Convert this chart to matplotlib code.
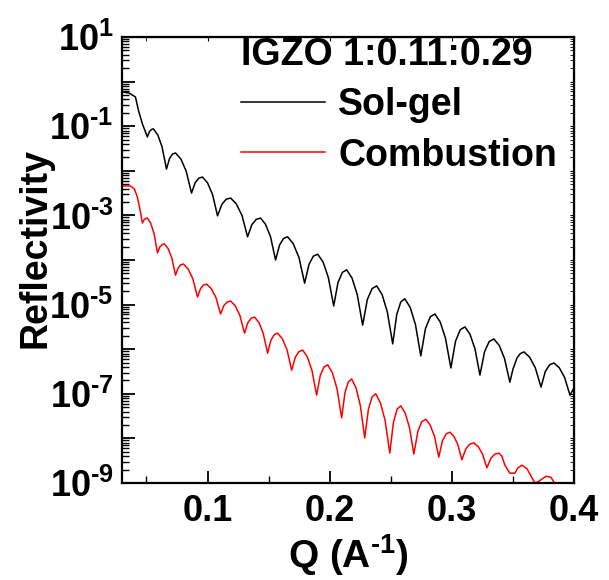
import matplotlib
matplotlib.use("Agg")
import matplotlib.pyplot as plt
import numpy as np
from matplotlib.ticker import FixedLocator, FuncFormatter, LogLocator, NullFormatter, MultipleLocator

# values: Q (1/A) and log10(reflectivity)
solgel_q = [
    0.0300, 0.0357, 0.0410, 0.0434, 0.0467, 0.0508, 0.0524, 0.0541, 0.0557, 0.0593,
    0.0628, 0.0664, 0.0689, 0.0713, 0.0738, 0.0782, 0.0825, 0.0869, 0.0899, 0.0929,
    0.0959, 0.1000, 0.1041, 0.1082, 0.1118, 0.1153, 0.1189, 0.1235, 0.1282, 0.1328,
    0.1363, 0.1399, 0.1434, 0.1475, 0.1516, 0.1557, 0.1590, 0.1623, 0.1656, 0.1702,
    0.1749, 0.1795, 0.1831, 0.1866, 0.1902, 0.1946, 0.1989, 0.2033, 0.2068, 0.2104,
    0.2139, 0.2183, 0.2226, 0.2270, 0.2308, 0.2347, 0.2385, 0.2429, 0.2472, 0.2516,
    0.2549, 0.2582, 0.2615, 0.2659, 0.2702, 0.2746, 0.2784, 0.2823, 0.2861, 0.2905,
    0.2948, 0.2992, 0.3030, 0.3069, 0.3107, 0.3148, 0.3189, 0.3230, 0.3268, 0.3306,
    0.3344, 0.3388, 0.3431, 0.3475, 0.3500, 0.3533, 0.3560, 0.3590, 0.3637, 0.3683,
    0.3730, 0.3765, 0.3801, 0.3836, 0.3880, 0.3923, 0.3967, 0.4000,
]
solgel_logr = [
    -0.233, -0.255, -0.345, -0.637, -0.950, -1.240, -1.123, -1.073, -1.060, -1.195,
    -1.465, -1.960, -1.726, -1.625, -1.600, -1.735, -2.005, -2.500, -2.266, -2.165,
    -2.140, -2.270, -2.530, -3.010, -2.750, -2.638, -2.610, -2.740, -3.000, -3.480,
    -3.207, -3.089, -3.060, -3.200, -3.480, -4.000, -3.662, -3.516, -3.480, -3.636,
    -3.948, -4.520, -4.097, -3.915, -3.870, -4.044, -4.392, -5.030, -4.504, -4.277,
    -4.220, -4.406, -4.778, -5.460, -4.888, -4.642, -4.580, -4.775, -5.165, -5.880,
    -5.224, -4.941, -4.870, -5.062, -5.446, -6.150, -5.539, -5.276, -5.210, -5.392,
    -5.755, -6.420, -5.822, -5.564, -5.500, -5.662, -5.986, -6.580, -6.054, -5.827,
    -5.770, -5.916, -6.207, -6.740, -6.450, -6.200, -6.100, -6.060, -6.179, -6.415,
    -6.850, -6.499, -6.348, -6.310, -6.418, -6.634, -7.030, -6.870,
]

combustion_q = [
    0.0300, 0.0369, 0.0402, 0.0426, 0.0451, 0.0467, 0.0481, 0.0494, 0.0508, 0.0535,
    0.0563, 0.0590, 0.0609, 0.0629, 0.0648, 0.0678, 0.0708, 0.0738, 0.0760, 0.0781,
    0.0803, 0.0841, 0.0880, 0.0918, 0.0943, 0.0967, 0.0992, 0.1030, 0.1069, 0.1107,
    0.1134, 0.1162, 0.1189, 0.1227, 0.1265, 0.1303, 0.1330, 0.1358, 0.1385, 0.1421,
    0.1456, 0.1492, 0.1519, 0.1547, 0.1574, 0.1612, 0.1651, 0.1689, 0.1719, 0.1749,
    0.1779, 0.1817, 0.1855, 0.1893, 0.1923, 0.1954, 0.1984, 0.2022, 0.2060, 0.2098,
    0.2125, 0.2153, 0.2180, 0.2216, 0.2251, 0.2287, 0.2317, 0.2347, 0.2377, 0.2415,
    0.2454, 0.2492, 0.2522, 0.2552, 0.2582, 0.2618, 0.2653, 0.2689, 0.2722, 0.2754,
    0.2787, 0.2822, 0.2858, 0.2893, 0.2923, 0.2954, 0.2984, 0.3017, 0.3049, 0.3082,
    0.3115, 0.3147, 0.3180, 0.3216, 0.3251, 0.3287, 0.3320, 0.3352, 0.3385, 0.3410,
    0.3434, 0.3475, 0.3516, 0.3541, 0.3574, 0.3615, 0.3680, 0.3713, 0.3770, 0.3811,
    0.3836, 0.3860,
]
combustion_logr = [
    -2.340, -2.340, -2.410, -2.590, -2.920, -3.170, -3.098, -3.068, -3.060, -3.177,
    -3.411, -3.840, -3.710, -3.654, -3.640, -3.745, -3.955, -4.340, -4.178, -4.108,
    -4.090, -4.201, -4.423, -4.830, -4.642, -4.560, -4.540, -4.640, -4.842, -5.210,
    -5.021, -4.940, -4.920, -5.028, -5.244, -5.640, -5.406, -5.305, -5.280, -5.400,
    -5.645, -6.090, -5.798, -5.672, -5.640, -5.765, -6.014, -6.470, -6.178, -6.052,
    -6.020, -6.172, -6.475, -7.030, -6.588, -6.398, -6.350, -6.529, -6.886, -7.540,
    -6.975, -6.731, -6.670, -6.868, -7.264, -7.990, -7.346, -7.069, -7.000, -7.200,
    -7.599, -8.330, -7.641, -7.344, -7.270, -7.432, -7.756, -8.350, -7.843, -7.625,
    -7.570, -7.698, -7.953, -8.420, -8.056, -7.899, -7.860, -7.953, -8.139, -8.480,
    -8.233, -8.127, -8.100, -8.184, -8.352, -8.660, -8.445, -8.353, -8.330, -8.400,
    -8.600, -8.780, -8.780, -8.660, -8.600, -8.680, -9.000, -8.960, -8.850, -8.870,
    -8.980, -9.300,
]

series_labels = ["Sol-gel", "Combustion"]
legend_title = "IGZO 1:0.11:0.29"
x_ticks = [0.1, 0.2, 0.3, 0.4]
y_label_exps = [1, -1, -3, -5, -7, -9]

plt.rcParams["font.family"] = ["Liberation Sans", "DejaVu Sans"]
plt.rcParams["font.weight"] = "bold"
plt.rcParams["mathtext.fontset"] = "custom"
plt.rcParams["mathtext.rm"] = "Liberation Sans:bold"
plt.rcParams["mathtext.bf"] = "Liberation Sans:bold"
plt.rcParams["mathtext.it"] = "Liberation Sans:bold"

fig = plt.figure(figsize=(6.09, 5.80), dpi=100)
ax = fig.add_axes([122 / 609, 1 - 483 / 580, 452 / 609, 446 / 580])

ax.plot(solgel_q, 10.0 ** np.array(solgel_logr), color="black", lw=1.1, label=series_labels[0])
ax.plot(combustion_q, 10.0 ** np.array(combustion_logr), color="#ff0000", lw=1.1, label=series_labels[1])

ax.set_yscale("log")
ax.set_xlim(0.03, 0.4)
ax.set_ylim(1e-9, 10)

ax.xaxis.set_major_locator(FixedLocator(x_ticks))
ax.xaxis.set_minor_locator(MultipleLocator(0.05))
ax.xaxis.set_major_formatter(FuncFormatter(lambda v, p: f"{v:.1f}"))
ax.yaxis.set_major_locator(LogLocator(base=10, numticks=20))
ax.yaxis.set_minor_locator(LogLocator(base=10, subs=np.arange(2, 10), numticks=20))
ax.yaxis.set_minor_formatter(NullFormatter())


def ylab(v, pos):
    e = int(round(np.log10(v)))
    if e not in y_label_exps:
        return ""
    if e < 0:
        return r"$\mathbf{10^{\text{-}%d}}$" % (-e)
    return r"$\mathbf{10^{%d}}$" % e


ax.yaxis.set_major_formatter(FuncFormatter(ylab))

ax.tick_params(which="major", direction="in", length=9, width=1.3, labelsize=26, pad=8)
ax.tick_params(which="minor", direction="in", length=5, width=1.0)
ax.tick_params(axis="y", which="major", pad=6)
for s in ax.spines.values():
    s.set_linewidth(1.6)

# short inward ticks on top and right
top = ax.secondary_xaxis("top")
top.xaxis.set_major_locator(FixedLocator(x_ticks))
top.xaxis.set_minor_locator(MultipleLocator(0.05))
top.tick_params(which="both", direction="in", length=3, labeltop=False)
right = ax.secondary_yaxis("right")
right.yaxis.set_major_locator(LogLocator(base=10, numticks=20))
right.yaxis.set_minor_locator(LogLocator(base=10, subs=np.arange(2, 10), numticks=20))
right.tick_params(which="both", direction="in", length=3, labelright=False)
right.yaxis.set_minor_formatter(NullFormatter())

ax.set_xlabel(r"Q (A$^{\mathbf{\text{-}1}}$)", fontsize=28, fontweight="bold", labelpad=2)
ax.set_ylabel("Reflectivity", fontsize=27, fontweight="bold")
ax.yaxis.set_label_coords(-0.152, 0.527)

leg = ax.legend(
    title=legend_title, loc="upper right", bbox_to_anchor=(557 / 609, 1 - 37 / 580),
    bbox_transform=fig.transFigure, frameon=False, fontsize=27, title_fontsize=27,
    alignment="left", handlelength=2.25, handletextpad=0.35, labelspacing=0.38,
    borderpad=0, borderaxespad=0,
)
leg.get_title().set_fontweight("bold")
for line in leg.get_lines():
    line.set_linewidth(1.1)

fig.savefig("out.png", dpi=100)
